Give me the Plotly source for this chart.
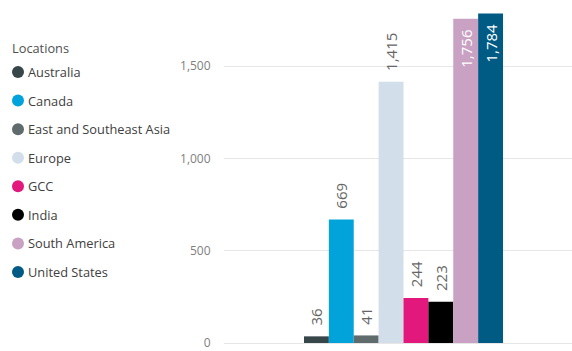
import plotly.graph_objects as go

locations = ["Australia", "Canada", "East and Southeast Asia", "Europe",
             "GCC", "India", "South America", "United States"]
values = [36, 669, 41, 1415, 244, 223, 1756, 1784]
colors = ["#374649", "#01A3DA", "#5F6B6D", "#D2DEEA",
          "#E2187C", "#000000", "#C8A1C3", "#005B84"]
label_pos = ["outside", "outside", "outside", "outside",
             "outside", "outside", "inside", "inside"]
y_ticks = [0, 500, 1000, 1500]
y_tick_text = ["0", "500", "1,000", "1,500"]
legend_title = "Locations"

FONT = "Segoe UI, Open Sans, sans-serif"
W, H = 572, 351
ML, MR, MT, MB = 224, 0, 10, 7
PW, PH = W - ML - MR, H - MT - MB
NB = "\u00a0"


def px_x(x):
    return (x - ML) / PW


def px_y(y):
    return (H - MB - y) / PH


fig = go.Figure()
for loc, val, col, pos in zip(locations, values, colors, label_pos):
    if pos == "outside":
        lbl = NB * 2 + f"{val:,}"
    else:
        lbl = f"{val:,}" + NB * 2
    fig.add_trace(go.Bar(
        x=[0], y=[val], name=loc, marker=dict(color=col, line=dict(width=0)),
        text=[lbl], textposition=pos, textangle=-90,
        insidetextanchor="end", constraintext="none",
        textfont=dict(family=FONT, size=15,
                      color="#FFFFFF" if pos == "inside" else "#666666"),
        cliponaxis=False, showlegend=False, hoverinfo="skip",
    ))

# legend drawn as annotations + circle shapes
annotations = [dict(text=legend_title, xref="paper", yref="paper",
                    x=px_x(10), y=px_y(48), xanchor="left", yanchor="middle",
                    showarrow=False, font=dict(family=FONT, size=12.8, color="#505050"))]
shapes = []
for i, (loc, col) in enumerate(zip(locations, colors)):
    cy = 72 + i * 28.57
    annotations.append(dict(text=loc, xref="paper", yref="paper",
                            x=px_x(26), y=px_y(cy), xanchor="left", yanchor="middle",
                            showarrow=False,
                            font=dict(family=FONT, size=12.8, color="#404040")))
    shapes.append(dict(type="circle", xref="paper", yref="paper",
                       xsizemode="pixel", ysizemode="pixel",
                       xanchor=px_x(18), yanchor=px_y(cy),
                       x0=-6, x1=6, y0=-6, y1=6,
                       fillcolor=col, line=dict(width=0)))

px_per_unit = (343 - 66) / 1500
y_lo = -(H - MB - 343) / px_per_unit
y_hi = (343 - MT) / px_per_unit

fig.update_layout(
    width=W, height=H,
    margin=dict(l=ML, r=MR, t=MT, b=MB),
    paper_bgcolor="white", plot_bgcolor="white",
    barmode="group", bargap=0.428, bargroupgap=0,
    font=dict(family=FONT, size=12, color="#666666"),
    showlegend=False,
    annotations=annotations, shapes=shapes,
    xaxis=dict(range=[-0.5 - 0.0158, 0.5 - 0.0158], showticklabels=False,
               showgrid=False, zeroline=False, fixedrange=True),
    yaxis=dict(range=[y_lo, y_hi], tickvals=y_ticks, ticktext=y_tick_text,
               showgrid=True, gridcolor="#E6E6E6", gridwidth=1,
               zeroline=True, zerolinecolor="#E6E6E6", zerolinewidth=1,
               ticks="outside", ticklen=10, tickcolor="rgba(0,0,0,0)",
               ticklabeloverflow="allow",
               tickfont=dict(family=FONT, size=12, color="#808080")),
)

fig.write_html("out.html", config={"displayModeBar": False},
               post_script="document.body.style.margin='0';document.body.style.padding='0';")
